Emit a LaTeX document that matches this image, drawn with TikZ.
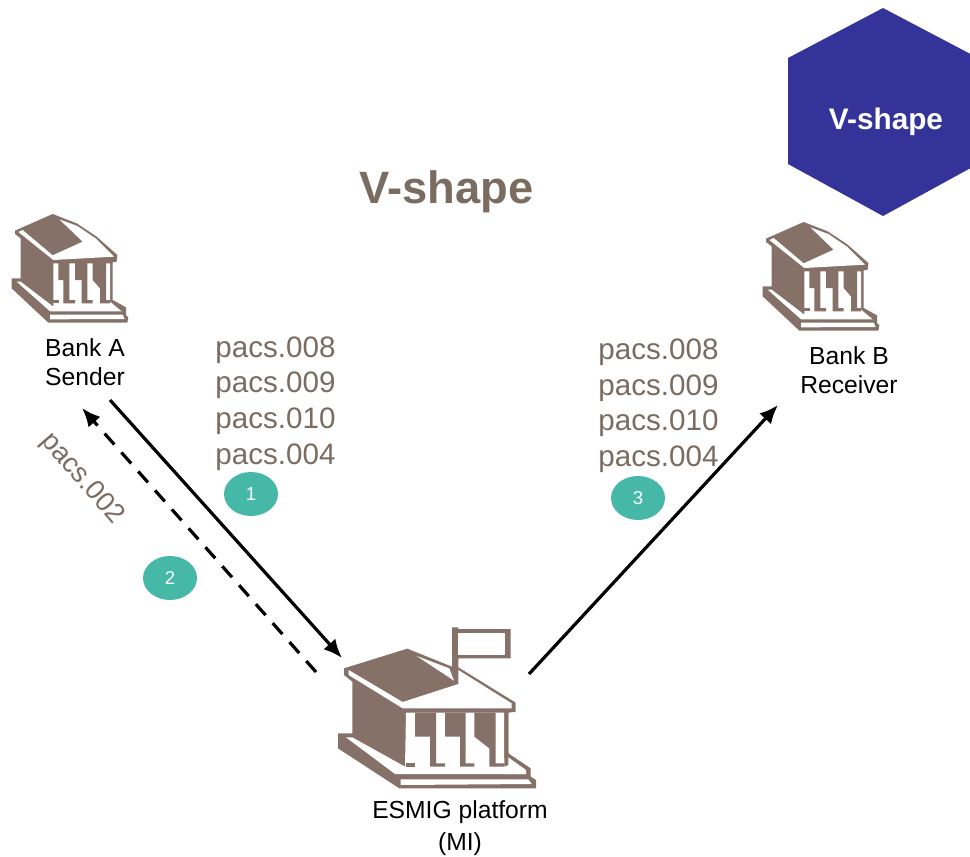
\documentclass[tikz,border=0pt]{standalone}
\usepackage{fontspec}
\setmainfont{Liberation Sans}
\usetikzlibrary{arrows.meta,shapes.geometric}
\definecolor{brownc}{HTML}{857168}
\definecolor{titlec}{HTML}{7A6C60}
\definecolor{hexc}{HTML}{333399}
\definecolor{tealc}{HTML}{45B8A8}
\tikzset{
  bk/.style={fill=brownc,draw=none},
  wh/.style={fill=white,draw=none},
  pacs/.style={text=titlec,font=\fontsize{22.2}{26}\selectfont,inner sep=0pt},
  lbl/.style={text=black,font=\fontsize{18.5}{22}\selectfont,align=center,inner sep=0pt},
  numb/.style={ellipse,fill=tealc,text=white,minimum width=20.25pt*2,minimum height=16.5pt*2,inner sep=0pt,font=\fontsize{14}{16}\selectfont},
  arr/.style={black,line width=2.4pt,-{Latex[length=14pt,width=12pt]}},
  smallbank/.pic={
    \begin{scope}[x=0.25pt,y=-0.25pt]
    \fill[bk] (45,92)--(158,42)--(230,70)--(290,110)--(352,165)--(350,185)--(338,187)--(338,300)--(378,322)--(378,345)--(385,352)--(382,368)--(145,368)--(35,265)--(35,235)--(62,235)--(62,115)--(45,102)--cycle;
    \fill[wh] (55,96)--(68,90)--(158,166)--(248,125)--(178,58)--(232,78)--(288,116)--(342,170)--(160,180)--cycle;
    \fill[wh] (160,190)--(330,190)--(330,305)--(365,334)--(150,334)--(50,245)--(62,245)--(160,320)--cycle;
    \fill[bk] (175,188)--(208,188)--(208,300)--(225,300)--(225,310)--(190,310)--(190,240)--(175,240)--cycle;
    \fill[bk] (225,188)--(262,188)--(262,300)--(278,300)--(278,310)--(245,310)--(245,240)--(225,240)--cycle;
    \fill[bk] (278,188)--(318,188)--(318,300)--(330,300)--(330,310)--(300,310)--(300,265)--(278,240)--cycle;
    \fill[bk] (160,300)--(176,300)--(176,310)--(160,310)--cycle;
    \fill[wh] (150,344)--(368,344)--(374,357)--(150,358)--cycle;
    \end{scope}
  },
  largebank/.pic={
    \begin{scope}[x=0.25pt,y=-0.25pt]
    \fill[bk] (72,145)--(262,86)--(396,140)--(396,22)--(415,22)--(415,27)--(572,27)--(572,115)--(415,115)--(415,142)--(587,248)--(587,275)--(565,278)--(565,400)--(632,445)--(632,470)--(648,480)--(648,505)--(238,505)--(54,385)--(54,340)--(97,340)--(97,185)--(72,165)--cycle;
    \fill[wh] (415,38)--(556,38)--(556,104)--(415,104)--cycle;
    \fill[wh] (86,150)--(248,246)--(415,192)--(415,150)--(575,250)--(575,265)--(248,265)--(86,165)--cycle;
    \fill[wh] (290,108)--(388,145)--(402,182)--cycle;
    \fill[wh] (258,278)--(553,278)--(553,415)--(620,462)--(225,462)--(78,352)--(97,352)--(255,440)--cycle;
    \fill[bk] (285,278)--(348,278)--(348,430)--(375,430)--(375,440)--(330,440)--(330,350)--(285,350)--cycle;
    \fill[bk] (375,278)--(437,278)--(437,430)--(463,430)--(463,440)--(420,440)--(420,350)--(375,350)--cycle;
    \fill[bk] (463,278)--(527,278)--(527,430)--(553,430)--(553,440)--(508,440)--(508,385)--(463,350)--cycle;
    \fill[bk] (258,430)--(285,430)--(285,440)--(258,440)--cycle;
    \fill[bk] (553,278)--(565,278)--(565,400)--(590,425)--(553,440)--cycle;
    \fill[wh] (565,412)--(618,450)--(618,462)--(553,462)--(553,440)--(565,440)--cycle;
    \fill[wh] (242,478)--(625,478)--(635,492)--(242,495)--cycle;
    \end{scope}
  }
}
\begin{document}
\begin{tikzpicture}[x=0.75pt,y=-0.75pt]
\useasboundingbox (0,0) rectangle (970,856);
\begin{scope}
\clip (0,0) rectangle (970,856);
\fill[hexc] (883,8)--(978,58)--(978,164)--(883,216)--(788,164)--(788,58)--cycle;
\end{scope}
\node[text=white,font=\fontsize{22.3}{26}\selectfont\bfseries,inner sep=0pt] (hexlabel) at (886,122) {V-shape};
\node[text=titlec,font=\fontsize{34}{40}\selectfont\bfseries,inner sep=0pt] (title) at (446.5,192) {V-shape};
\pic at (0,200) {smallbank};
\pic at (751,208) {smallbank};
\pic at (320,620) {largebank};
\node[lbl] (banka) at (85,362) {Bank A\\Sender};
\node[lbl] (bankb) at (849,370) {Bank B\\Receiver};
\node[lbl,font=\fontsize{18.5}{24}\selectfont] (esmig) at (460,828) {ESMIG platform\\(MI)};
\foreach \n/\t/\y in {a1/008/350,a2/009/385,a3/010/421,a4/004/457}
  \node[pacs] (\n) at (275.5,\y) {pacs.\t};
\foreach \n/\t/\y in {b1/008/352,b2/009/388,b3/010/423,b4/004/459}
  \node[pacs] (\n) at (658.5,\y) {pacs.\t};
\node[pacs,rotate=-49,font=\fontsize{20.5}{24}\selectfont] (pacsret) at (82,479) {pacs.002};
\node[numb] (n1) at (251,494) {1};
\node[numb] (n2) at (170,578) {2};
\node[numb] (n3) at (638,498) {3};
\coordinate (s1) at (110,400);
\coordinate (e1) at (342,658);
\coordinate (s2) at (316,672);
\coordinate (e2) at (82,408);
\coordinate (s3) at (529,674);
\coordinate (e3) at (778,405);
\draw[arr] (s1) -- (e1);
\draw[arr,dash pattern=on 11pt off 8pt] (s2) -- (e2);
\draw[arr] (s3) -- (e3);
\end{tikzpicture}
\end{document}
